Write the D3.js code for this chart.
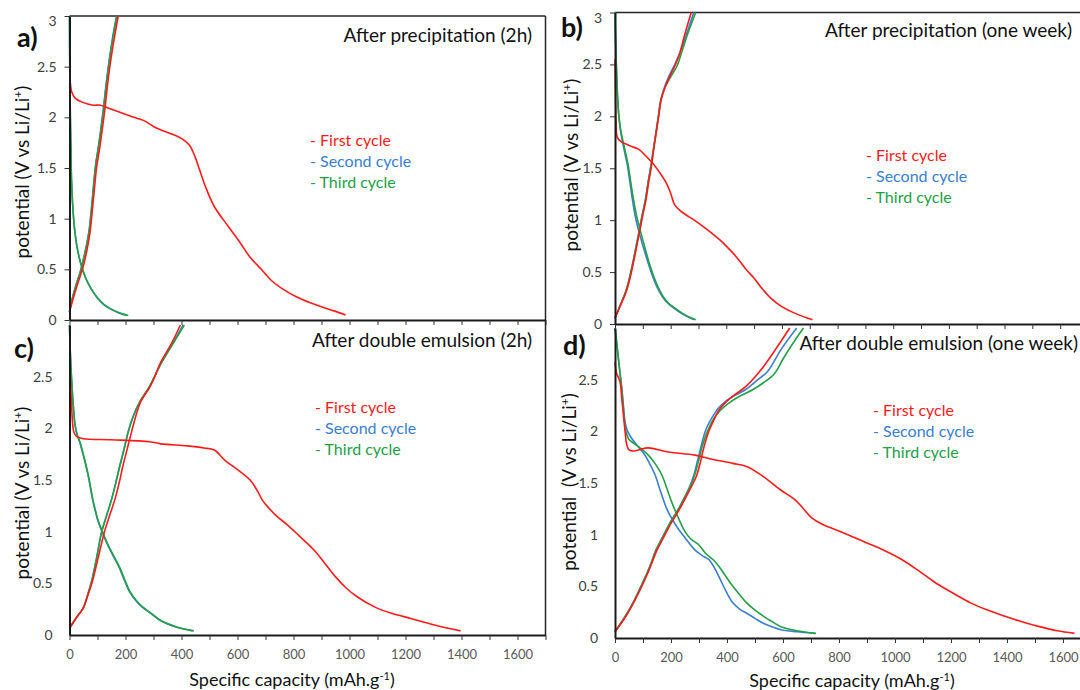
<!DOCTYPE html>
<html><head><meta charset="utf-8">
<script src="https://cdn.jsdelivr.net/npm/d3@7"></script>
<style>body{margin:0;background:#fff}svg{display:block}text{font-family:Lato,'Liberation Sans',sans-serif}</style>
</head><body><svg id="chart" width="1080" height="690"></svg>
<script>
// ---------- data: [specific capacity (mAh/g), potential (V)] ----------
const xTicks = [0,100,200,300,400,500,600,700,800,900,1000,1100,1200,1300,1400,1500,1600,1700];
const xTickLabels = [0,200,400,600,800,1000,1200,1400,1600];
const yTicksFull = [0,0.5,1,1.5,2,2.5,3];
const yTicksLow = [0,0.5,1,1.5,2,2.5];
const seriesNames = ["First cycle","Second cycle","Third cycle"];
const panelTitles = ["After precipitation (2h)","After precipitation (one week)","After double emulsion (2h)","After double emulsion (one week)"];
const panelLetters = ["a)","b)","c)","d)"];

// panel a
const aFirstDis = [[3,2.34],[8,2.25],[20,2.19],[45,2.15],[85,2.12],[110,2.12],[140,2.09],[180,2.05],[230,2.0],[264,1.97],[300,1.91],[323,1.88],[370,1.83],[406,1.78],[430,1.72],[447,1.62],[465,1.48],[485,1.32],[517,1.12],[568,0.92],[610,0.76],[645,0.62],[685,0.5],[721,0.39],[765,0.3],[810,0.23],[860,0.17],[900,0.13],[945,0.09],[986,0.05]];
const aFirstChg = [[0,0.08],[10,0.18],[26,0.33],[40,0.45],[52,0.56],[63,0.7],[73,0.86],[85,1.18],[97,1.51],[108,1.7],[115,1.84],[126,2.07],[135,2.3],[144,2.5],[158,2.75],[174,3.0]];
const aSecondDis = [[0,3.0],[1,2.5],[3,2.0],[5,1.7],[7,1.4],[11,1.15],[18,0.9],[27,0.72],[40,0.56],[57,0.42],[75,0.32],[99,0.22],[123,0.15],[152,0.1],[176,0.07],[203,0.045]];
const aSecondChg = [[0,0.08],[9,0.2],[24,0.35],[38,0.47],[50,0.6],[61,0.74],[71,0.9],[82,1.2],[93,1.52],[104,1.72],[111,1.86],[121,2.08],[130,2.3],[140,2.52],[153,2.77],[168,3.0]];
const aThirdDis = [[0,3.0],[1,2.5],[3,2.0],[5,1.7],[7,1.4],[11,1.15],[18,0.9],[27,0.72],[40,0.56],[57,0.42],[75,0.32],[100,0.22],[125,0.15],[155,0.1],[180,0.07],[210,0.045]];
const aThirdChg = [[0,0.08],[9,0.2],[24,0.35],[38,0.47],[50,0.6],[61,0.74],[71,0.9],[82,1.2],[93,1.52],[104,1.72],[111,1.86],[121,2.08],[130,2.3],[140,2.52],[154,2.77],[169,3.0]];

// panel b
const bFirstDis = [[0,2.55],[2,2.2],[4,1.95],[8,1.8],[20,1.76],[33,1.74],[60,1.71],[87,1.68],[110,1.62],[135,1.55],[160,1.46],[184,1.36],[200,1.26],[214,1.15],[235,1.09],[256,1.05],[285,1.0],[316,0.94],[350,0.87],[377,0.81],[400,0.75],[425,0.68],[450,0.6],[473,0.52],[500,0.44],[523,0.36],[560,0.25],[598,0.17],[650,0.1],[710,0.04]];
const bFirstChg = [[0,0.055],[15,0.15],[39,0.3],[52,0.42],[63,0.55],[76,0.72],[87,0.87],[100,1.05],[111,1.19],[122,1.38],[131,1.52],[139,1.68],[148,1.84],[157,2.0],[166,2.16],[180,2.28],[196,2.38],[214,2.48],[232,2.6],[252,2.8],[274,3.0]];
const bSecondDis = [[0,3.0],[2,2.75],[5,2.48],[9,2.2],[14,2.0],[20,1.86],[26,1.77],[35,1.65],[45,1.52],[54,1.36],[63,1.19],[72,1.05],[81,0.94],[93,0.82],[105,0.71],[120,0.58],[135,0.46],[152,0.35],[171,0.26],[190,0.2],[208,0.16],[240,0.1],[284,0.04]];
const bSecondChg = [[0,0.055],[14,0.15],[37,0.3],[50,0.42],[61,0.55],[74,0.72],[85,0.87],[98,1.05],[109,1.19],[120,1.38],[129,1.52],[138,1.68],[147,1.84],[156,2.0],[165,2.16],[179,2.29],[196,2.4],[215,2.5],[234,2.62],[258,2.8],[283,3.0]];
const bThirdDis = [[0,3.0],[2,2.75],[5,2.48],[9,2.2],[14,2.0],[21,1.86],[28,1.77],[38,1.65],[48,1.52],[57,1.36],[67,1.19],[77,1.05],[87,0.94],[99,0.82],[110,0.71],[124,0.58],[139,0.46],[156,0.35],[174,0.26],[193,0.2],[212,0.16],[244,0.1],[290,0.04]];
const bThirdChg = [[0,0.055],[14,0.15],[37,0.3],[50,0.42],[61,0.55],[74,0.72],[85,0.87],[98,1.05],[109,1.19],[120,1.38],[129,1.52],[138,1.68],[147,1.84],[156,2.0],[165,2.16],[180,2.28],[200,2.38],[222,2.48],[240,2.62],[262,2.8],[290,3.0]];

// panel c
const cFirstDis = [[2,2.55],[5,2.35],[8,2.19],[11,2.05],[16,1.96],[26,1.92],[49,1.9],[150,1.89],[287,1.87],[326,1.85],[420,1.83],[480,1.81],[517,1.79],[555,1.69],[600,1.6],[645,1.5],[670,1.4],[690,1.3],[708,1.24],[740,1.15],[772,1.08],[820,0.96],[874,0.82],[910,0.7],[951,0.56],[990,0.45],[1027,0.37],[1091,0.27],[1150,0.21],[1219,0.16],[1300,0.1],[1397,0.04]];
const cFirstChg = [[0,0.065],[25,0.17],[49,0.26],[65,0.38],[82,0.52],[100,0.72],[125,1.0],[145,1.17],[163,1.32],[178,1.48],[191,1.64],[206,1.8],[222,1.97],[237,2.12],[255,2.26],[287,2.4],[300,2.47],[326,2.64],[364,2.82],[396,3.0]];
const cSecondDis = [[0,3.0],[2,2.8],[5,2.6],[8,2.45],[14,2.2],[20,2.03],[28,1.93],[36,1.87],[51,1.72],[66,1.55],[75,1.42],[84,1.29],[93,1.19],[102,1.1],[116,1.0],[131,0.9],[155,0.77],[178,0.65],[196,0.53],[214,0.42],[238,0.33],[260,0.27],[285,0.22],[324,0.14],[378,0.08],[440,0.04]];
const cSecondChg = [[0,0.065],[25,0.17],[49,0.26],[64,0.38],[79,0.52],[95,0.72],[115,1.0],[133,1.16],[151,1.32],[166,1.48],[180,1.64],[195,1.8],[210,1.97],[228,2.12],[252,2.26],[285,2.4],[300,2.48],[329,2.64],[368,2.82],[406,3.0]];
const cThirdDis = [[0,3.0],[2,2.8],[5,2.6],[8,2.45],[14,2.2],[20,2.03],[28,1.93],[37,1.87],[52,1.72],[67,1.55],[76,1.42],[85,1.29],[94,1.19],[103,1.1],[118,1.0],[133,0.9],[157,0.77],[180,0.65],[198,0.53],[216,0.42],[240,0.33],[262,0.27],[287,0.22],[326,0.14],[380,0.08],[444,0.04]];
const cThirdChg = [[0,0.065],[25,0.17],[49,0.26],[64,0.38],[79,0.52],[95,0.72],[115,1.0],[133,1.16],[151,1.32],[166,1.48],[180,1.64],[195,1.8],[210,1.97],[228,2.12],[252,2.26],[285,2.4],[300,2.48],[330,2.64],[370,2.82],[410,3.0]];

// panel d
const dFirstDis = [[0,2.67],[6,2.56],[18,2.48],[24,2.32],[30,2.16],[36,2.0],[42,1.87],[50,1.82],[65,1.81],[83,1.82],[119,1.84],[190,1.8],[286,1.77],[346,1.73],[421,1.69],[470,1.66],[531,1.56],[593,1.43],[642,1.34],[670,1.26],[704,1.16],[740,1.1],[777,1.06],[840,0.99],[900,0.92],[960,0.85],[1024,0.76],[1090,0.64],[1147,0.53],[1210,0.43],[1270,0.34],[1330,0.27],[1393,0.21],[1450,0.16],[1516,0.11],[1580,0.07],[1641,0.045]];
const dFirstChg = [[0,0.06],[39,0.21],[70,0.36],[101,0.53],[125,0.68],[150,0.85],[175,0.98],[200,1.11],[225,1.22],[249,1.34],[270,1.45],[290,1.56],[305,1.7],[315,1.82],[335,2.0],[355,2.12],[372,2.21],[395,2.28],[421,2.34],[470,2.44],[520,2.59],[570,2.78],[624,3.0]];
const dSecondDis = [[0,3.0],[6,2.86],[12,2.71],[18,2.56],[24,2.42],[30,2.25],[36,2.09],[45,2.0],[60,1.93],[80,1.86],[107,1.77],[125,1.68],[143,1.58],[160,1.44],[179,1.29],[190,1.22],[202,1.16],[225,1.06],[250,0.97],[286,0.85],[310,0.8],[335,0.76],[355,0.68],[372,0.59],[395,0.46],[421,0.34],[445,0.28],[470,0.24],[500,0.19],[531,0.14],[560,0.11],[593,0.08],[650,0.06],[712,0.045]];
const dSecondChg = [[0,0.06],[39,0.22],[70,0.37],[100,0.54],[124,0.69],[148,0.86],[173,0.99],[198,1.12],[223,1.23],[246,1.35],[266,1.46],[282,1.58],[295,1.72],[306,1.84],[325,2.02],[348,2.14],[368,2.22],[395,2.29],[430,2.35],[470,2.41],[510,2.5],[545,2.58],[595,2.8],[649,3.0]];
const dThirdDis = [[0,3.0],[6,2.86],[12,2.71],[18,2.56],[24,2.42],[30,2.22],[36,2.05],[42,1.97],[50,1.92],[80,1.86],[119,1.77],[145,1.68],[167,1.58],[185,1.45],[202,1.32],[225,1.17],[250,1.03],[270,0.96],[300,0.9],[323,0.82],[350,0.76],[372,0.69],[395,0.6],[421,0.5],[445,0.42],[470,0.34],[500,0.27],[531,0.21],[560,0.16],[593,0.11],[650,0.07],[718,0.045]];
const dThirdChg = [[0,0.06],[39,0.22],[70,0.37],[100,0.54],[124,0.69],[148,0.86],[173,0.99],[198,1.12],[223,1.23],[247,1.35],[268,1.46],[285,1.58],[299,1.72],[310,1.84],[330,2.0],[352,2.12],[375,2.2],[410,2.28],[445,2.34],[490,2.4],[530,2.47],[570,2.56],[600,2.7],[635,2.85],[673,3.0]];

// ---------- styling / layout ----------
const colors = ["#ff1a1a","#3a7ecf","#23a046"];
const legendColors = ["#ff1a1a","#3a7ecf","#23a046"];
const panels = [
  {left:69.5, right:545.5, top:16, bottom:320, yTicks:yTicksFull, yTickSize:5, yPad:8, xLabels:false, topBorder:true, rightBorder:true,
   series:[[aFirstDis,aFirstChg],[aSecondDis,aSecondChg],[aThirdDis,aThirdChg]],
   letter:[17,47], title:[532,42], legend:[310,140], ytitle:[22,172], xtitle:null},
  {left:615, right:1088, top:12.5, bottom:324, yTicks:yTicksFull, yTickSize:5, yPad:8, xLabels:false, topBorder:true, rightBorder:false,
   series:[[bFirstDis,bFirstChg],[bSecondDis,bSecondChg],[bThirdDis,bThirdChg]],
   letter:[561,37], title:[1072,37], legend:[866,155], ytitle:[571,165], xtitle:null},
  {left:69.5, right:545.5, top:325, bottom:635, yTicks:yTicksLow, yTickSize:0, yPad:17, xLabels:true, topBorder:false, rightBorder:true, borderTop:320,
   series:[[cFirstDis,cFirstChg],[cSecondDis,cSecondChg],[cThirdDis,cThirdChg]],
   letter:[14,358], title:[532,347], legend:[315,407], ytitle:[22,493], xtitle:[292,686]},
  {left:615, right:1091, top:328, bottom:638, yTicks:yTicksLow, yTickSize:0, yPad:17, xLabels:true, topBorder:false, rightBorder:false,
   series:[[dFirstDis,dFirstChg],[dSecondDis,dSecondChg],[dThirdDis,dThirdChg]],
   letter:[563,355], title:[1078,350], legend:[873,410], ytitle:[569,482], xtitle:[852,687]}
];

const svg = d3.select("#chart");
svg.append("rect").attr("width",1080).attr("height",690).attr("fill","#fff");

panels.forEach((p,i)=>{
  const x = d3.scaleLinear().domain([0,1700]).range([p.left,p.right]);
  const y = d3.scaleLinear().domain([0,3]).range([p.bottom,p.top]);
  const g = svg.append("g");

  // borders
  if(p.topBorder) g.append("line").attr("x1",p.left).attr("x2",Math.min(p.right,1080)).attr("y1",p.top).attr("y2",p.top)
      .attr("stroke","#262626").attr("stroke-width",1.5);
  if(p.rightBorder) g.append("line").attr("x1",p.right).attr("x2",p.right).attr("y1",p.borderTop||p.top).attr("y2",p.bottom)
      .attr("stroke","#262626").attr("stroke-width",1.5);

  // curves: draw blue, green, then red on top
  const line = d3.line().x(d=>x(d[0])).y(d=>y(d[1])).curve(d3.curveCatmullRom.alpha(0.5));
  [1,2,0].forEach(si=>{
    p.series[si].forEach(arr=>{
      g.append("path").attr("d",line(arr)).attr("fill","none")
        .attr("stroke",colors[si]).attr("stroke-width",1.6).attr("stroke-linejoin","round");
    });
  });

  // x axis
  const xa = d3.axisBottom(x).tickValues(xTicks).tickSize(5).tickSizeOuter(0).tickPadding(10)
    .tickFormat(d => (p.xLabels && xTickLabels.includes(d)) ? d : "");
  const gx = g.append("g").attr("transform",`translate(0,${p.bottom})`).call(xa);
  gx.select(".domain").attr("stroke","#1a1a1a").attr("stroke-width",2);
  gx.selectAll(".tick line").attr("stroke","#333").attr("stroke-width",1);
  gx.selectAll(".tick text").attr("fill","#595959").style("font-size","13px").style("font-family","Lato, sans-serif");

  // y axis
  const ya = d3.axisLeft(y).tickValues(p.yTicks).tickSize(p.yTickSize).tickSizeOuter(0).tickPadding(p.yPad)
    .tickFormat(d3.format("~g"));
  const gy = g.append("g").attr("transform",`translate(${p.left},0)`).call(ya);
  gy.select(".domain").attr("stroke","#1a1a1a").attr("stroke-width",2);
  gy.selectAll(".tick line").attr("stroke","#333").attr("stroke-width",1);
  gy.selectAll(".tick text").attr("fill","#404040").style("font-size","14px").style("font-family","Lato, sans-serif")
    .attr("dy", d => d===3 ? "0.7em" : "0.32em");

  // panel letter
  g.append("text").attr("x",p.letter[0]).attr("y",p.letter[1]).text(panelLetters[i])
    .attr("font-weight","bold").style("font-size","27px").attr("fill","#111");
  // title
  g.append("text").attr("x",p.title[0]).attr("y",p.title[1]).attr("text-anchor","end").text(panelTitles[i])
    .style("font-size","19px").attr("fill","#111");
  // legend
  seriesNames.forEach((n,k)=>{
    g.append("text").attr("x",p.legend[0]).attr("y",p.legend[1]+k*21).attr("dy","0.35em").text("- "+n)
      .style("font-size","16px").attr("fill",legendColors[k]);
  });
  // y title
  const yt = g.append("text").attr("transform",`translate(${p.ytitle[0]},${p.ytitle[1]}) rotate(-90)`)
    .attr("text-anchor","middle").attr("dy","0.35em").style("font-size","19px").attr("fill","#111");
  yt.append("tspan").text(i===3 ? "potential\u00a0 (V vs Li/Li" : "potential (V vs Li/Li");
  yt.append("tspan").text("+").attr("baseline-shift","super").style("font-size","12px");
  yt.append("tspan").text(")");
  // x title
  if(p.xtitle){
    const xt = g.append("text").attr("x",p.xtitle[0]).attr("y",p.xtitle[1]).attr("text-anchor","middle")
      .style("font-size","18px").attr("fill","#111");
    xt.append("tspan").text("Specific capacity (mAh.g");
    xt.append("tspan").text("-1").attr("dy","-6").style("font-size","11px");
    xt.append("tspan").text(")").attr("dy","6");
  }
});
</script></body></html>
